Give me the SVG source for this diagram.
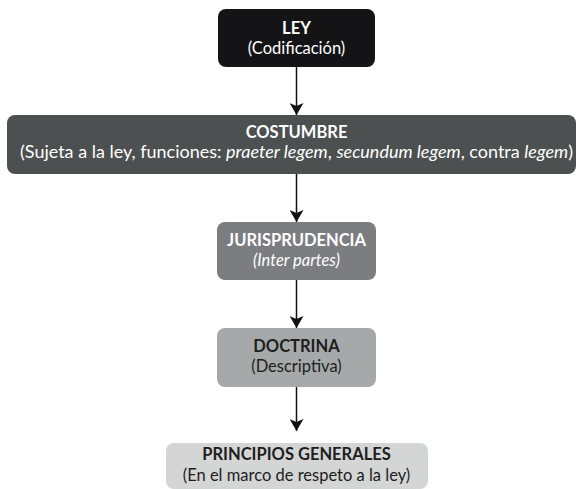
<svg xmlns="http://www.w3.org/2000/svg" width="580" height="489" viewBox="0 0 580 489">
<defs>
<marker id="ah" viewBox="0 0 12 14" refX="12" refY="7" markerWidth="12" markerHeight="14" markerUnits="userSpaceOnUse" orient="auto">
<path d="M0,0 L3,7 L0,14 L12,7 Z" fill="#111"/>
</marker>
</defs>
<style>
text{font-family:Lato,"Open Sans","Liberation Sans",sans-serif;font-size:16.5px;text-anchor:middle}
.t{font-weight:bold}
.w{fill:#fff}
.d{fill:#1e1e1e}
.i{font-style:italic}
.c line{stroke:#111;stroke-width:1.5}
</style>
<rect width="580" height="489" fill="#fff"/>
<g class="c">
<line x1="296.5" y1="67" x2="296.5" y2="115" marker-end="url(#ah)"/>
<line x1="296.5" y1="174" x2="296.5" y2="222" marker-end="url(#ah)"/>
<line x1="296.5" y1="280" x2="296.5" y2="328" marker-end="url(#ah)"/>
<line x1="296.5" y1="387" x2="296.5" y2="431" marker-end="url(#ah)"/>
</g>
<g id="ley">
<rect x="218" y="9" width="157" height="58" rx="8" fill="#141416"/>
<text x="296.5" y="34" class="t w">LEY</text>
<text x="296.5" y="54" class="w">(Codificación)</text>
</g>
<g id="costumbre">
<rect x="7" y="115" width="569" height="59" rx="8" fill="#4d5050"/>
<text x="296.5" y="138" class="t w">COSTUMBRE</text>
<text x="296.5" y="158" class="w" textLength="553" lengthAdjust="spacingAndGlyphs">(Sujeta a la ley, funciones: <tspan class="i">praeter legem</tspan>, <tspan class="i">secundum legem</tspan>, contra <tspan class="i">legem</tspan>)</text>
</g>
<g id="jurisprudencia">
<rect x="217" y="222" width="159" height="58" rx="8" fill="#7b7d80"/>
<text x="296.5" y="246" class="t w">JURISPRUDENCIA</text>
<text x="296.5" y="266" class="w i">(Inter partes)</text>
</g>
<g id="doctrina">
<rect x="217" y="328" width="159" height="59" rx="8" fill="#a6a9aa"/>
<text x="296.5" y="352" class="t d">DOCTRINA</text>
<text x="296.5" y="372" class="d">(Descriptiva)</text>
</g>
<g id="principios">
<rect x="166" y="443" width="262" height="46" rx="8" fill="#d4d5d5"/>
<text x="296.5" y="460" class="t d">PRINCIPIOS GENERALES</text>
<text x="296.5" y="481" class="d">(En el marco de respeto a la ley)</text>
</g>
</svg>
